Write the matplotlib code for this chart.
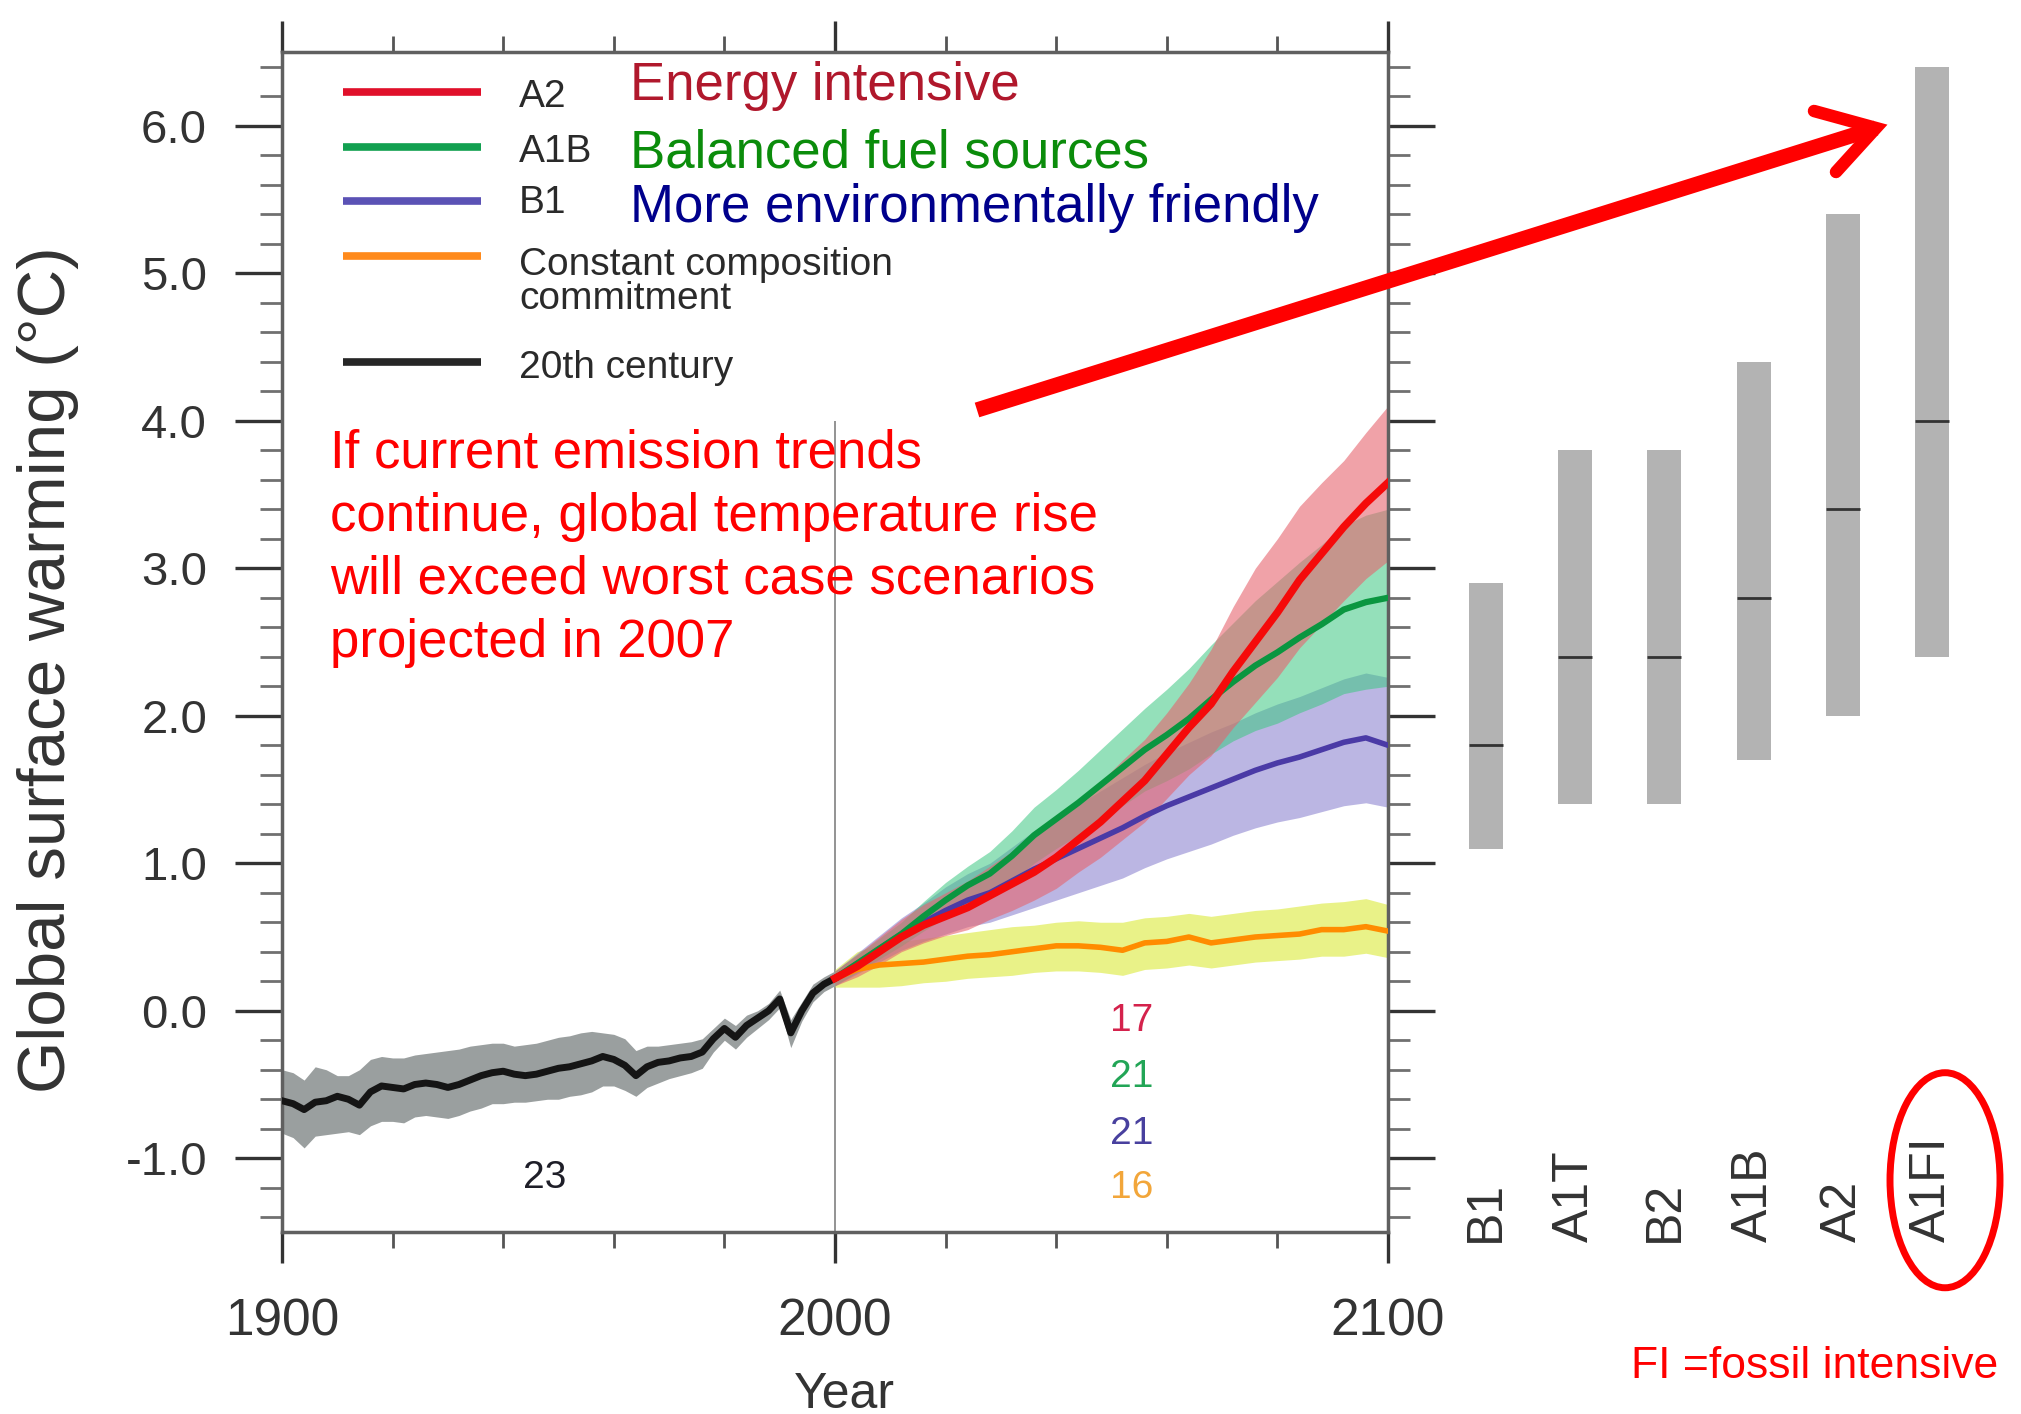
import numpy as np
import matplotlib.pyplot as plt
from matplotlib.lines import Line2D
from matplotlib.patches import Ellipse

plt.rcParams['font.family'] = ['Liberation Sans', 'DejaVu Sans']

# 20th century simulations (every 2 years)
hist_years = np.arange(1900, 2001, 2)
hist_mean = [-0.61, -0.63, -0.67, -0.62, -0.61, -0.58, -0.60, -0.64, -0.55, -0.51,
             -0.52, -0.53, -0.50, -0.49, -0.50, -0.52, -0.50, -0.47, -0.44, -0.42,
             -0.41, -0.43, -0.44, -0.43, -0.41, -0.39, -0.38, -0.36, -0.34, -0.31,
             -0.33, -0.37, -0.44, -0.38, -0.35, -0.34, -0.32, -0.31, -0.28, -0.19,
             -0.12, -0.18, -0.10, -0.05, 0.00, 0.08, -0.15, 0.00, 0.12, 0.18, 0.22]
hist_hi = [-0.40, -0.42, -0.47, -0.38, -0.40, -0.44, -0.44, -0.40, -0.33, -0.31,
           -0.32, -0.32, -0.30, -0.29, -0.28, -0.27, -0.26, -0.24, -0.23, -0.22,
           -0.22, -0.24, -0.23, -0.22, -0.20, -0.18, -0.17, -0.15, -0.14, -0.15,
           -0.16, -0.19, -0.27, -0.24, -0.24, -0.23, -0.22, -0.21, -0.19, -0.12,
           -0.05, -0.10, -0.03, 0.00, 0.05, 0.14, -0.06, 0.06, 0.18, 0.23, 0.27]
hist_lo = [-0.83, -0.86, -0.93, -0.85, -0.84, -0.83, -0.82, -0.84, -0.78, -0.75,
           -0.75, -0.76, -0.72, -0.71, -0.72, -0.73, -0.71, -0.68, -0.66, -0.63,
           -0.63, -0.62, -0.62, -0.61, -0.60, -0.60, -0.58, -0.57, -0.55, -0.51,
           -0.51, -0.54, -0.58, -0.52, -0.49, -0.46, -0.44, -0.42, -0.39, -0.28,
           -0.20, -0.26, -0.18, -0.12, -0.06, 0.02, -0.25, -0.07, 0.06, 0.13, 0.17]

# 21st century projections (every 4 years)
proj_years = np.arange(2000, 2101, 4)
a2_mean = [0.22, 0.30, 0.40, 0.50, 0.58, 0.64, 0.70, 0.78, 0.86, 0.94,
           1.04, 1.16, 1.28, 1.42, 1.56, 1.74, 1.92, 2.08, 2.30, 2.50,
           2.70, 2.92, 3.10, 3.28, 3.44, 3.58]
a2_hi = [0.27, 0.38, 0.50, 0.62, 0.72, 0.80, 0.88, 0.98, 1.08, 1.18,
         1.30, 1.42, 1.55, 1.70, 1.84, 2.02, 2.22, 2.45, 2.74, 3.00,
         3.20, 3.42, 3.58, 3.73, 3.92, 4.10]
a2_lo = [0.17, 0.23, 0.31, 0.40, 0.46, 0.51, 0.55, 0.62, 0.68, 0.75,
         0.83, 0.94, 1.04, 1.16, 1.28, 1.44, 1.60, 1.73, 1.92, 2.09,
         2.26, 2.46, 2.62, 2.78, 2.93, 3.05]
a1b_mean = [0.22, 0.32, 0.42, 0.52, 0.64, 0.75, 0.85, 0.93, 1.05, 1.19,
            1.30, 1.41, 1.53, 1.65, 1.77, 1.87, 1.98, 2.11, 2.23, 2.34,
            2.43, 2.53, 2.62, 2.72, 2.77, 2.80]
a1b_hi = [0.27, 0.38, 0.49, 0.60, 0.74, 0.87, 0.98, 1.08, 1.22, 1.38,
          1.50, 1.63, 1.77, 1.91, 2.05, 2.18, 2.32, 2.48, 2.63, 2.78,
          2.91, 3.04, 3.16, 3.29, 3.36, 3.40]
a1b_lo = [0.17, 0.26, 0.35, 0.44, 0.54, 0.63, 0.72, 0.78, 0.88, 1.00,
          1.10, 1.19, 1.29, 1.39, 1.49, 1.56, 1.64, 1.74, 1.83, 1.90,
          1.95, 2.02, 2.08, 2.15, 2.18, 2.20]
b1_mean = [0.22, 0.32, 0.42, 0.52, 0.60, 0.68, 0.75, 0.80, 0.88, 0.96,
           1.03, 1.10, 1.17, 1.24, 1.32, 1.39, 1.45, 1.51, 1.57, 1.63,
           1.68, 1.72, 1.77, 1.82, 1.85, 1.80]
b1_hi = [0.27, 0.39, 0.51, 0.63, 0.73, 0.84, 0.93, 1.00, 1.11, 1.22,
         1.31, 1.40, 1.49, 1.58, 1.67, 1.75, 1.82, 1.89, 1.95, 2.02,
         2.08, 2.13, 2.19, 2.25, 2.29, 2.26]
b1_lo = [0.17, 0.25, 0.33, 0.41, 0.47, 0.52, 0.57, 0.60, 0.65, 0.70,
         0.75, 0.80, 0.85, 0.90, 0.97, 1.03, 1.08, 1.13, 1.19, 1.24,
         1.28, 1.31, 1.35, 1.39, 1.41, 1.38]
cc_mean = [0.22, 0.28, 0.31, 0.32, 0.33, 0.35, 0.37, 0.38, 0.40, 0.42,
           0.44, 0.44, 0.43, 0.41, 0.46, 0.47, 0.50, 0.46, 0.48, 0.50,
           0.51, 0.52, 0.55, 0.55, 0.57, 0.54]
cc_hi = [0.28, 0.40, 0.45, 0.47, 0.49, 0.51, 0.53, 0.55, 0.57, 0.58,
         0.60, 0.61, 0.60, 0.60, 0.63, 0.64, 0.66, 0.64, 0.66, 0.68,
         0.69, 0.71, 0.73, 0.74, 0.76, 0.72]
cc_lo = [0.16, 0.16, 0.16, 0.17, 0.19, 0.20, 0.22, 0.23, 0.24, 0.26,
         0.27, 0.27, 0.26, 0.24, 0.28, 0.29, 0.31, 0.29, 0.31, 0.33,
         0.34, 0.35, 0.37, 0.37, 0.39, 0.36]

# likely ranges at 2090-2099 per SRES scenario
scen_names = ['B1', 'A1T', 'B2', 'A1B', 'A2', 'A1FI']
scen_low = [1.1, 1.4, 1.4, 1.7, 2.0, 2.4]
scen_best = [1.8, 2.4, 2.4, 2.8, 3.4, 4.0]
scen_high = [2.9, 3.8, 3.8, 4.4, 5.4, 6.4]

# number of models
count_labels = ['17', '21', '21', '16']
count_colors = ['#d4224c', '#22a556', '#48409e', '#f2a63a']
count_y = [-0.14, -0.52, -0.905, -1.27]

legend_labels = ['A2', 'A1B', 'B1', 'Constant composition\ncommitment', '20th century']
legend_colors = ['#e0102a', '#12a050', '#5b52b5', '#ff8a1c', '#262626']
scen_desc = ['Energy intensive', 'Balanced fuel sources', 'More environmentally friendly']
desc_colors = ['#b0182c', '#0b8c0b', '#00008c']
note_lines = ['If current emission trends',
              'continue, global temperature rise',
              'will exceed worst case scenarios',
              'projected in 2007']

W, H = 2021, 1414
def fx(px):
    return px / W
def fy(py):
    return 1 - py / H

fig = plt.figure(figsize=(W / 100, H / 100), dpi=100)
fig.patch.set_facecolor('white')

ax = fig.add_axes([fx(282), fy(1232), fx(1388) - fx(282), fy(52) - fy(1232)])
ax.set_xlim(1900, 2100)
ax.set_ylim(-1.5, 6.5)

ax.vlines(2000, -1.5, 4.0, color='#808080', lw=1.2, zorder=1)

ax.fill_between(hist_years, hist_lo, hist_hi, color='#9a9f9f', lw=0, zorder=2)
ax.fill_between(proj_years, cc_lo, cc_hi, color='#e2ee60', alpha=0.75, lw=0, zorder=2)
ax.fill_between(proj_years, b1_lo, b1_hi, color='#786ec8', alpha=0.5, lw=0, zorder=2)
ax.fill_between(proj_years, a1b_lo, a1b_hi, color='#3cc882', alpha=0.55, lw=0, zorder=2)
ax.fill_between(proj_years, a2_lo, a2_hi, color='#e6646e', alpha=0.6, lw=0, zorder=2)

ax.plot(hist_years, hist_mean, color='#151515', lw=5, zorder=3)
ax.plot(proj_years, cc_mean, color='#ff8c00', lw=4, zorder=3)
ax.plot(proj_years, b1_mean, color='#4a3aa6', lw=4, zorder=3)
ax.plot(proj_years, a1b_mean, color='#0a9640', lw=4.5, zorder=3)
ax.plot(proj_years, a2_mean, color='#f50a0a', lw=5.5, zorder=4)

ax.set_xticks([1900, 2000, 2100])
ax.set_xticks(np.arange(1900, 2101, 20), minor=True)
ax.set_yticks(np.arange(-1, 7))
ax.set_yticklabels(['%.1f' % v for v in np.arange(-1, 7)])
ax.set_yticks(np.arange(-1.4, 6.5, 0.2), minor=True)
ax.tick_params(which='both', direction='out', top=True, right=True,
               colors='#333333', labelcolor='#333333')
ax.tick_params(axis='y', which='major', length=34, width=2.4, pad=20, labelsize=34)
ax.tick_params(axis='y', which='minor', length=16, width=2, color='#707070')
ax.tick_params(axis='x', which='major', length=22, width=2.4, pad=25, labelsize=37)
ax.tick_params(axis='x', which='minor', length=11.5, width=2, color='#555555')
for s in ax.spines.values():
    s.set_color('#606060')
    s.set_linewidth(2.5)

ax.text(1947.5, -1.20, '23', color='#1e1e28', fontsize=28, ha='center', va='baseline')
for lab, col, yv in zip(count_labels, count_colors, count_y):
    ax.text(2053.7, yv, lab, color=col, fontsize=28, ha='center', va='baseline')

# scenario ranges panel
ax2 = fig.add_axes([fx(1400), fy(1232), 1 - fx(1400), fy(52) - fy(1232)])
ax2.set_xlim(-0.964, 5.998)
ax2.set_ylim(-1.5, 6.5)
ax2.axis('off')
xs = np.arange(len(scen_names))
ax2.bar(xs, np.array(scen_high) - np.array(scen_low), bottom=scen_low, width=0.38,
        color='#b3b3b3', lw=0)
ax2.hlines(scen_best, xs - 0.19, xs + 0.19, color='#333333', lw=2)
for i, name in enumerate(scen_names):
    ax2.text(i, -1.57, name, rotation=90, ha='center', va='bottom', fontsize=36,
             color='#333333', clip_on=False)
ax2.add_patch(Ellipse((5.146, -1.149), 1.233, 1.458, fill=False, ec='#ff0000',
                      lw=5, clip_on=False))

# legend
leg_y = [92, 147, 201, 256, 362]
leg_base = [107, 162, 213, 275, 378]
for yl, yb, lab, col in zip(leg_y, leg_base, legend_labels, legend_colors):
    fig.add_artist(Line2D([fx(343), fx(481)], [fy(yl), fy(yl)], color=col, lw=5.5,
                          solid_capstyle='butt'))
    first = lab.split('\n')
    fig.text(fx(519), fy(yb), first[0], fontsize=28, color='#2a2a2a', va='baseline')
    if len(first) > 1:
        fig.text(fx(519), fy(309), first[1], fontsize=28, color='#2a2a2a', va='baseline')

for txt, col, yb in zip(scen_desc, desc_colors, [100, 168, 222]):
    fig.text(fx(630), fy(yb), txt, fontsize=38, color=col, va='baseline')

for k, line in enumerate(note_lines):
    fig.text(fx(330), fy(467 + 63.5 * k), line, fontsize=38, color='#ff0000', va='baseline')

fig.text(fx(48), fy(670), 'Global surface warming (°C)', rotation=90, ha='center',
         va='center', fontsize=48.5, color='#333333')
fig.text(fx(844), fy(1395), 'Year', ha='center', va='center', fontsize=36, color='#333333')
fig.text(fx(1998), fy(1378), 'FI =fossil intensive', ha='right', va='baseline',
         fontsize=32, color='#ff0000')

# big arrow
fig.add_artist(Line2D([fx(977), fx(1876)], [fy(410), fy(128)], color='#ff0000', lw=11,
                      solid_capstyle='butt'))
fig.add_artist(Line2D([fx(1814), fx(1876), fx(1836)], [fy(111), fy(128), fy(172)],
                      color='#ff0000', lw=9, solid_capstyle='round', solid_joinstyle='miter'))

fig.savefig('out.png', dpi=100)
